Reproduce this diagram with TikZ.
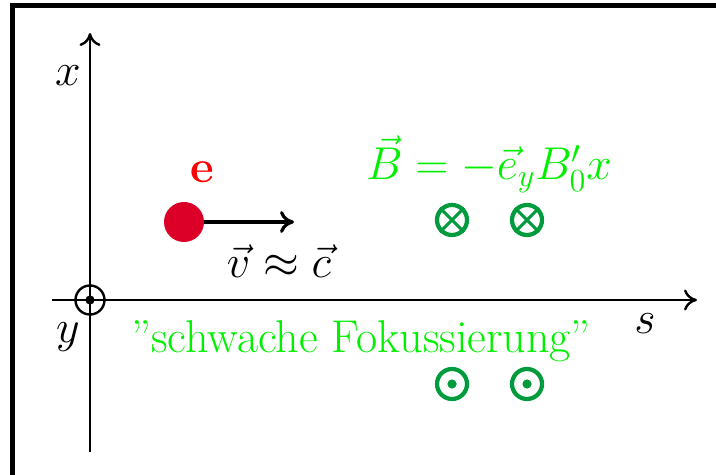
\RequirePackage{fix-cm}
\documentclass[tikz,border=0pt]{standalone}
\usetikzlibrary{arrows.meta}
\definecolor{fieldgreen}{RGB}{0,155,60}
\definecolor{textgreen}{RGB}{0,240,0}
\definecolor{electron}{RGB}{220,0,40}
\begin{document}
\begin{tikzpicture}[x=0.5pt,y=-0.5pt,
  lbl/.style={inner sep=0pt,anchor=base,font=\fontsize{23}{27}\selectfont},
  axis/.style={line width=1.2pt,-{To[length=6.5pt,width=10.5pt]}},
  fieldsym/.style={circle,draw=fieldgreen,line width=2.1pt,minimum size=15pt,inner sep=0pt}]
\useasboundingbox (0,0) rectangle (716,475);
% frame
\draw[line width=2.5pt] (716,6) -- (12.5,6) -- (12.5,475);
% axes
\coordinate (sstart) at (52,300);
\coordinate (send) at (697,300);
\coordinate (xstart) at (90,452);
\coordinate (xend) at (90,33);
\draw[axis] (sstart) -- (send);
\draw[axis] (xstart) -- (xend);
\node[circle,draw,line width=1.2pt,minimum size=14.5pt,inner sep=0pt] (orig) at (90,300) {};
\fill (orig.center) circle (2.3pt);
\node[lbl] (xl) at (68,86) {$x$};
\node[lbl] (yl) at (68,343) {$y$};
\node[lbl] (sl) at (645,333) {$s$};
% electron
\node[circle,fill=electron,minimum size=20pt,inner sep=0pt] (el) at (184,222) {};
\coordinate (vend) at (294,222);
\draw[line width=1.6pt,-{To[length=7pt,width=11pt]}] (el.east) -- (vend);
\node[lbl,text=red] (e) at (202,183) {$\mathbf{e}$};
\node[lbl] (v) at (279,278) {$\vec v\approx\vec c$};
% field
\node[lbl,text=textgreen] (B) at (489,180) {$\vec B=-\vec e_y B_0'x$};
\foreach \n/\px in {a/452,b/527}{
  \node[fieldsym] (in\n) at (\px,220) {};
  \draw[fieldgreen,line width=1.5pt] (in\n.45) -- (in\n.225) (in\n.135) -- (in\n.315);
  \node[fieldsym] (out\n) at (\px,384) {};
  \fill[fieldgreen] (out\n.center) circle (2.3pt);
}
\node[lbl,text=textgreen] (schw) at (361,352) {''schwache Fokussierung''};
\end{tikzpicture}
\end{document}
